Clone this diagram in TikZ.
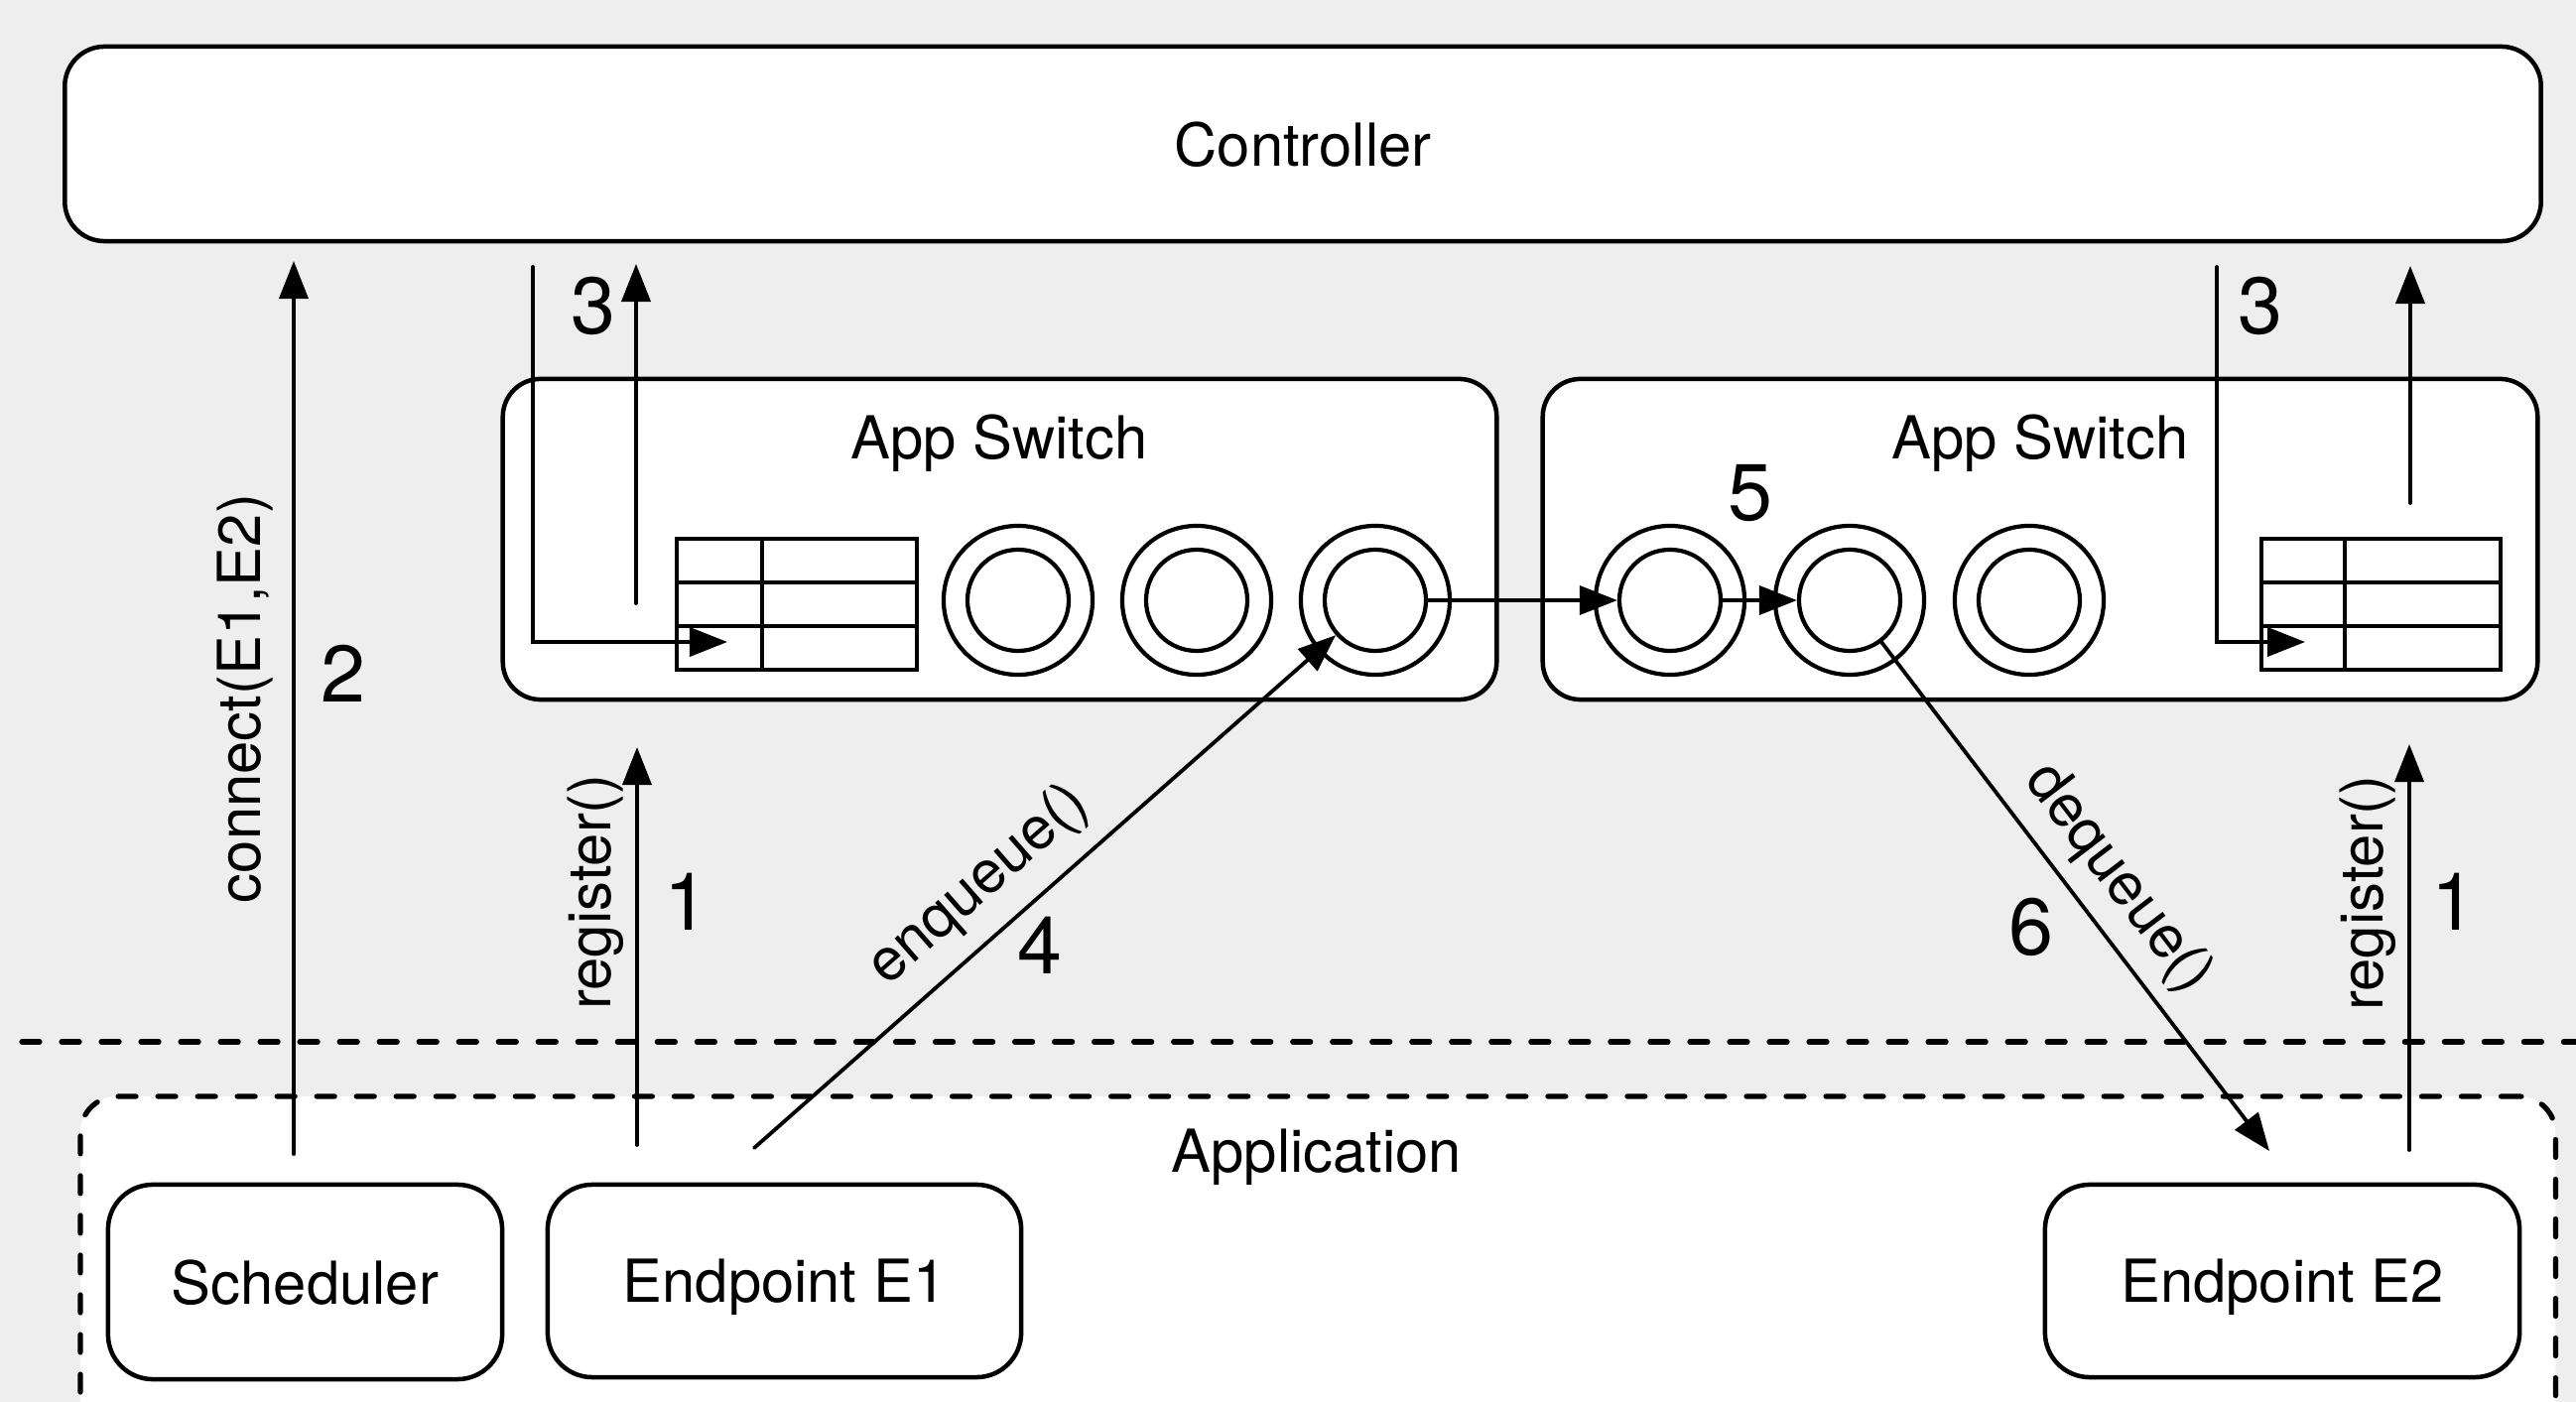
\documentclass[tikz,border=0pt]{standalone}
\usepackage{fontspec}
\setmainfont{TeX Gyre Heros}
\usetikzlibrary{arrows.meta}
\definecolor{bgc}{HTML}{EEEEEE}
\begin{document}
\begin{tikzpicture}[x=0.01cm,y=-0.01cm,
  box/.style={draw,fill=white,line width=0.045cm,rounded corners=0.42cm,inner sep=0,outer sep=0,text depth=0pt,font=\fontsize{17}{20}\selectfont},
  lbl/.style={font=\fontsize{17}{20}\selectfont,inner sep=0},
  num/.style={font=\fontsize{23}{26}\selectfont,inner sep=0},
  arr/.style={line width=0.038cm,line cap=round,-{Triangle[length=0.38cm,width=0.29cm]}},
  ln/.style={line width=0.042cm},
  ring/.style={circle,draw,fill=white,line width=0.042cm,inner sep=0},
  dsh/.style={line width=0.052cm,dash pattern=on 0.18cm off 0.22cm,line cap=round},
  tbl/.style={draw,fill=white,line width=0.042cm,inner sep=0,outer sep=0}
]
\useasboundingbox (0,0) rectangle (2596,1413);
\fill[bgc] (0,0) rectangle (2596,1413);
\clip (0,0) rectangle (2596,1413);

% separator and application area
\coordinate (sepA) at (22,1050);
\coordinate (sepB) at (2620,1050);
\draw[dsh] (sepA) -- (sepB);
\node[dsh,draw,fill=white,rounded corners=0.37cm,inner sep=0,outer sep=0,anchor=north west,minimum width=24.93cm,minimum height=4.0cm] (app) at (81,1105) {};
\node[lbl,anchor=base] (lapp) at (1327,1181) {Application};

% application components
\node[box,rounded corners=0.45cm,minimum width=3.97cm,minimum height=1.96cm] (sched) at (307.5,1292) {Scheduler};
\node[box,rounded corners=0.45cm,minimum width=4.77cm,minimum height=1.94cm] (ep1) at (790.5,1291) {Endpoint E1};
\node[box,rounded corners=0.45cm,minimum width=4.78cm,minimum height=1.94cm] (ep2) at (2300,1291) {Endpoint E2};

% controller
\node[box,rounded corners=0.4cm,minimum width=24.94cm,minimum height=1.96cm] (ctrl) at (1313,145) {Controller};

% switches
\node[box,rounded corners=0.38cm,minimum width=10.01cm,minimum height=3.23cm] (swL) at (1007.5,543.5) {};
\node[box,rounded corners=0.38cm,minimum width=10.02cm,minimum height=3.23cm] (swR) at (2056,543.5) {};
\node[lbl,anchor=base] (swLt) at (1007,463) {App Switch};
\node[lbl,anchor=base] (swRt) at (2056,463) {App Switch};

% tables
\node[tbl,minimum width=2.42cm,minimum height=1.32cm] (tblL) at (803,609) {};
\draw[ln] (768,543) -- (768,675) (682,587) -- (924,587) (682,631) -- (924,631);
\node[tbl,minimum width=2.41cm,minimum height=1.32cm] (tblR) at (2399.5,609) {};
\draw[ln] (2363,543) -- (2363,675) (2279,587) -- (2520,587) (2279,631) -- (2520,631);

% queues
\foreach \nm/\cx in {L1/1026,L2/1206,L3/1386,R1/1683,R2/1864,R3/2045}{
  \node[ring,minimum size=1.50cm] (\nm o) at (\cx,605) {};
  \node[ring,minimum size=1.02cm] (\nm i) at (\cx,605) {};
}

% arrows
\coordinate (cS) at (296,1163); \coordinate (cE) at (296,263);
\draw[arr] (cS) -- (cE);

\coordinate (l3a) at (537,269); \coordinate (l3b) at (733,647);
\draw[arr] (l3a) |- (l3b);
\coordinate (l3c) at (641,608); \coordinate (l3d) at (641,266);
\draw[arr] (l3c) -- (l3d);

\coordinate (r3a) at (2234,269); \coordinate (r3b) at (2323,647);
\draw[arr] (r3a) |- (r3b);
\coordinate (r3c) at (2429,507); \coordinate (r3d) at (2429,268);
\draw[arr] (r3c) -- (r3d);

\coordinate (rgLa) at (642,1154); \coordinate (rgLb) at (642,753);
\draw[arr] (rgLa) -- (rgLb);
\coordinate (rgRa) at (2428,1159); \coordinate (rgRb) at (2428,750);
\draw[arr] (rgRa) -- (rgRb);

\coordinate (enqS) at (760,1157);
\draw[arr] (enqS) -- (L3i);
\coordinate (deqE) at (2287,1160);
\draw[arr] (R2i) -- (deqE);

\draw[arr] (L3i.east) -- (R1i.west);
\draw[arr] (R1i.east) -- (R2i.west);

% labels
\node[lbl,rotate=90,anchor=base] (lcon) at (262,704) {connect(E1,E2)};
\node[lbl,rotate=90,anchor=base] (lregL) at (615,899) {register()};
\node[lbl,rotate=90,anchor=base] (lregR) at (2401,900) {register()};
\node[lbl,rotate=41.2] (lenq) at (987,893) {enqueue()};
\node[lbl,rotate=-52.6] (ldeq) at (2134,886) {dequeue()};

\node[num] (n3L) at (598,308) {3};
\node[num] (n3R) at (2278,308) {3};
\node[num] (n2) at (346,679) {2};
\node[num] (n1L) at (692,909) {1};
\node[num] (n1R) at (2473,909) {1};
\node[num] (n4) at (1048,953) {4};
\node[num] (n5) at (1764,497) {5};
\node[num] (n6) at (2047,934) {6};
\end{tikzpicture}
\end{document}
